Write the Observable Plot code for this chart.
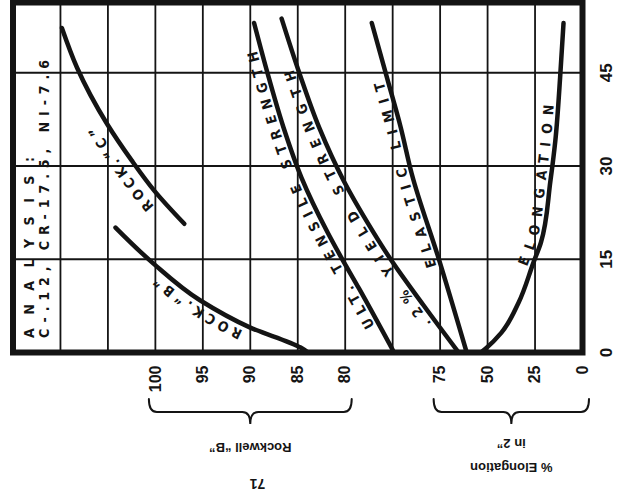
<!DOCTYPE html>
<html><head><meta charset="utf-8">
<script src="https://cdn.jsdelivr.net/npm/d3@7"></script>
<script src="https://cdn.jsdelivr.net/npm/@observablehq/plot@0.6"></script>
<style>body{margin:0;background:#fff} svg{display:block}</style>
</head><body><div id="chart"></div>
<script>
// ---------- data ----------
// vertical axis of the picture: % reduction
const reductionTicks = [0, 15, 30, 45];
// bottom scales
const rockwellBTicks = [100, 95, 90, 85, 80];
const elongationTicks = [75, 50, 25, 0];

// Rockwell "B" curve (Rockwell B units)
const rockB_reduction = [0, 0.8, 4.0, 8.4, 14.3, 20.1];
const rockB_value     = [83.9, 84.7, 90.0, 95.3, 100.2, 104.2];

// Elongation curve (% in 2")
const elong_reduction = [0, 0.6, 3.2, 8.0, 14.5, 17.7, 27.6, 34.1, 44.2, 53.0];
const elong_value     = [53.5, 51.1, 42.7, 33.7, 25.8, 21.9, 16.9, 14.3, 11.8, 10.0];

// Curves with no printed scale: position in grid divisions from left edge
const rockC_reduction = [20.7, 26.0, 30.9, 36.8, 45.8, 52.2];
const rockC_div       = [3.61, 2.98, 2.50, 1.98, 1.35, 1.03];

const tensile_reduction = [0, 10.3, 15.1, 19.3, 28.1, 36.2, 44.2, 53.0];
const tensile_div       = [8.03, 7.29, 6.93, 6.63, 6.08, 5.70, 5.39, 5.08];

const yield_reduction = [0, 7.6, 14.5, 20.9, 27.6, 36.2, 44.8, 53.7];
const yield_div       = [9.39, 8.65, 8.00, 7.47, 6.97, 6.45, 6.04, 5.66];

const elastic_reduction = [0, 15.1, 28.8, 36.2, 44.2, 53.0];
const elastic_div       = [9.56, 8.97, 8.40, 8.17, 7.88, 7.56];

const analysisLines = ["ANALYSIS:", "C-.12, CR-17.5, NI-7.6"];
const rockwellTitle = "Rockwell \u201CB\u201D";
const elongTitle1 = "in 2\u201D";
const elongTitle2 = "% Elongation";
const pageNumber = "71";

// ---------- conversions to grid divisions ----------
const divFromRB = v => 3 + (100 - v) / 5;
const divFromElong = e => 12 - e / 25;

const curves = {
  rockC:   rockC_reduction.map((r, i) => ({r, col: rockC_div[i]})),
  rockB:   rockB_reduction.map((r, i) => ({r, col: divFromRB(rockB_value[i])})),
  tensile: tensile_reduction.map((r, i) => ({r, col: tensile_div[i]})),
  yield:   yield_reduction.map((r, i) => ({r, col: yield_div[i]})),
  elastic: elastic_reduction.map((r, i) => ({r, col: elastic_div[i]})),
  elong:   elong_reduction.map((r, i) => ({r, col: divFromElong(elong_value[i])}))
};

const labels = [
  {curve: "rockC",   text: "ROCK.\u201CC\u201D",            r0: 24.5, r1: 37.5, gap: 10},
  {curve: "rockB",   text: "ROCK.\u201CB\u201D",            r0: 4.3,  r1: 13.2, gap: 6},
  {curve: "tensile", text: "ULT. TENSILE STRENGTH", r0: 4.5,  r1: 49,   gap: 4},
  {curve: "yield",   text: ".2% YIELD STRENGTH",    r0: 5.0,  r1: 46,   gap: 4},
  {curve: "elastic", text: "ELASTIC LIMIT",         r0: 14,   r1: 44,   gap: 4},
  {curve: "elong",   text: "ELONGATION",            r0: 13.5, r1: 40,   gap: 4}
];

const INK = "#141414";
const FONT = "'DejaVu Sans Condensed','DejaVu Sans',sans-serif";
const NUMFONT = "'Liberation Sans',Arial,sans-serif";
const bold = {fontWeight: "bold", fill: INK};

const plot = Plot.plot({
  width: 617, height: 490,
  marginLeft: 12.5, marginRight: 35, marginTop: 2, marginBottom: 138,
  x: {domain: [0, 12], axis: null},
  y: {domain: [0, 56.3], axis: null},
  style: {background: "#fff", color: INK, overflow: "visible"},
  marks: [
    Plot.ruleX(d3.range(1, 12), {stroke: INK, strokeWidth: 1.8}),
    Plot.ruleY(reductionTicks.filter(d => d > 0), {stroke: INK, strokeWidth: 1.8}),
    ...Object.values(curves).map(data => Plot.line(data, {
      x: "col", y: "r", curve: "monotone-y", stroke: INK, strokeWidth: 4.5,
      strokeLinecap: "round", strokeLinejoin: "round"
    })),
    Plot.frame({stroke: INK, strokeWidth: 6}),
    Plot.text(reductionTicks, {x: () => 12, y: d => d, dx: 24, rotate: -90, text: d => String(d),
      fontSize: 17, fontFamily: NUMFONT, ...bold}),
    Plot.text(rockwellBTicks, {x: d => divFromRB(d), y: () => 0, dy: 13, rotate: -90, textAnchor: "end",
      text: d => String(d), fontSize: 16, fontFamily: NUMFONT, ...bold}),
    Plot.text(elongationTicks, {x: d => divFromElong(d), y: () => 0, dy: 13, rotate: -90, textAnchor: "end",
      text: d => String(d), fontSize: 16, fontFamily: NUMFONT, ...bold}),
    Plot.text([rockwellTitle], {x: () => d3.mean(rockwellBTicks, divFromRB), y: () => 0, dy: 95, rotate: 180,
      text: d => d, fontSize: 13, fontFamily: NUMFONT, ...bold}),
    Plot.text([elongTitle1], {x: () => d3.mean(elongationTicks, divFromElong), y: () => 0, dy: 91, rotate: 180,
      text: d => d, fontSize: 13, fontFamily: NUMFONT, ...bold}),
    Plot.text([elongTitle2], {x: () => d3.mean(elongationTicks, divFromElong), y: () => 0, dy: 115, rotate: 180,
      text: d => d, fontSize: 13, fontFamily: NUMFONT, ...bold}),
    Plot.text([pageNumber], {x: () => 5.15, y: () => 0, dy: 131, rotate: 180, text: d => d,
      fontSize: 14, fontFamily: NUMFONT, ...bold})
  ]
});
document.getElementById("chart").appendChild(plot);

const sx = plot.scale("x"), sy = plot.scale("y");
const X = v => sx.apply(v), Y = v => sy.apply(v);
const svg = d3.select(plot);

// analysis lines, reading upward along the left edge, letters spread out
const aLayer = svg.append("g").attr("font-family", FONT).attr("font-weight", "bold")
  .attr("font-size", 14).attr("fill", INK).attr("text-anchor", "start");
const aOffset = [16, 31], aSpan = [181, 278];
analysisLines.forEach((line, i) => {
  const t = aLayer.append("text")
    .attr("transform", `translate(${X(0) + aOffset[i]},${Y(0) - 14}) rotate(-90)`)
    .attr("dy", "0.36em")
    .text(line);
  const nat = t.node().getComputedTextLength();
  t.style("letter-spacing", ((aSpan[i] - nat) / (line.length - 1)) + "px");
});

// braces under the two bottom scales
function brace(x0, x1, yTop, yFlat, yTip) {
  const xc = (x0 + x1) / 2, r = 8;
  return `M${x0},${yTop} Q${x0},${yFlat} ${x0 + r},${yFlat} L${xc - r},${yFlat} Q${xc},${yFlat} ${xc},${yTip}` +
         ` Q${xc},${yFlat} ${xc + r},${yFlat} L${x1 - r},${yFlat} Q${x1},${yFlat} ${x1},${yTop}`;
}
const yb = Y(0);
[rockwellBTicks.map(divFromRB), elongationTicks.map(divFromElong)].forEach(cols => {
  const xs = cols.map(X);
  svg.append("path").attr("fill", "none").attr("stroke", INK).attr("stroke-width", 2)
    .attr("stroke-linecap", "round")
    .attr("d", brace(d3.min(xs) - 6, d3.max(xs) + 7, yb + 47, yb + 60, yb + 72));
});

// curve labels along the curves
const lay = svg.append("g").attr("font-family", FONT).attr("font-weight", "bold")
  .attr("font-size", 14).attr("fill", INK).attr("text-anchor", "start");
labels.forEach((lab, k) => {
  const pts = curves[lab.curve].map(d => [X(d.col), Y(d.r)]);
  const tmp = svg.append("path").attr("fill", "none")
    .attr("d", d3.line().curve(d3.curveMonotoneY)(pts));
  const node = tmp.node(), L = node.getTotalLength();
  const yA = Y(lab.r0), yB = Y(lab.r1);
  const s = [];
  for (let i = 0; i <= 800; i++) {
    const p = node.getPointAtLength(L * i / 800);
    if (p.y <= yA && p.y >= yB) s.push([p.x, p.y]);
  }
  tmp.remove();
  const off = s.map((p, i) => {
    const a = s[Math.max(0, i - 1)], b = s[Math.min(s.length - 1, i + 1)];
    let dx = b[0] - a[0], dy = b[1] - a[1];
    const n = Math.hypot(dx, dy) || 1; dx /= n; dy /= n;
    return [p[0] + dy * lab.gap, p[1] - dx * lab.gap];
  });
  const id = "lblpath" + k;
  const lp = svg.append("path").attr("id", id).attr("fill", "none").attr("stroke", "none")
    .attr("d", d3.line()(off));
  const Lp = lp.node().getTotalLength();
  const meas = lay.append("text").text(lab.text);
  const nat = meas.node().getComputedTextLength();
  meas.remove();
  const ls = Math.max(0, (Lp - nat - 2) / (lab.text.length - 1));
  lay.append("text").style("letter-spacing", ls + "px")
    .append("textPath").attr("href", "#" + id).attr("startOffset", 0).text(lab.text);
});
</script>
</body></html>
